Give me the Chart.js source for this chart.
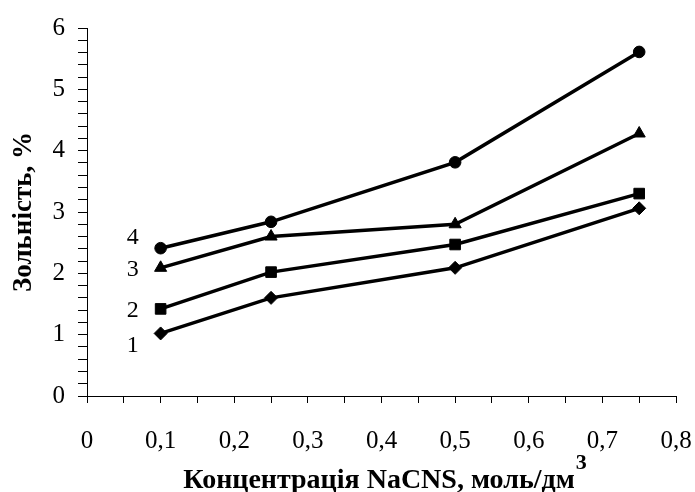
<!DOCTYPE html>
<html>
<head>
<meta charset="utf-8">
<script src="https://cdn.jsdelivr.net/npm/chart.js@4"></script>
<style>
  html, body { margin: 0; padding: 0; background: #fff; }
  #wrap { width: 695px; height: 492px; }
</style>
</head>
<body>
<div id="wrap"><canvas id="chart" width="695" height="492"></canvas></div>
<script>
// Data
const concentrations = [0.1, 0.25, 0.5, 0.75];
const series1 = [1.02, 1.60, 2.09, 3.06];
const series2 = [1.42, 2.02, 2.47, 3.30];
const series3 = [2.09, 2.60, 2.80, 4.28];
const series4 = [2.41, 2.84, 3.81, 5.61];
const seriesNames = ['1', '2', '3', '4'];
const xTicks = [0, 0.1, 0.2, 0.3, 0.4, 0.5, 0.6, 0.7, 0.8];
const yTicks = [0, 1, 2, 3, 4, 5, 6];
const xTitle = 'Концентрація NaCNS, моль/дм';
const xTitleSup = '3';
const yTitle = 'Зольність, %';

const FONT = "'Liberation Serif', 'Times New Roman', serif";

function toPoints(values) {
    return concentrations.map((x, i) => ({ x: x, y: values[i] }));
}

function makeDataset(name, values, marker, radius) {
    return {
        label: name,
        data: toPoints(values),
        borderColor: '#000',
        backgroundColor: '#000',
        borderWidth: 3.5,
        pointStyle: marker,
        pointRadius: radius,
        pointBorderWidth: 1,
        tension: 0
    };
}

// curve numbers left of the first point of each series
const curveLabels = {
    id: 'curveLabels',
    afterDatasetsDraw(chart) {
        const ctx = chart.ctx;
        const offsets = [12, 2, 2, -10];
        ctx.save();
        ctx.fillStyle = '#000';
        ctx.font = '24px ' + FONT;
        ctx.textAlign = 'center';
        ctx.textBaseline = 'middle';
        chart.data.datasets.forEach((ds, i) => {
            const pt = chart.getDatasetMeta(i).data[0];
            ctx.fillText(ds.label, pt.x - 28, pt.y + offsets[i]);
        });
        ctx.restore();
    }
};

// x axis title with a raised "3"
const xAxisTitle = {
    id: 'xAxisTitle',
    afterDraw(chart) {
        const ctx = chart.ctx;
        const area = chart.chartArea;
        ctx.save();
        ctx.fillStyle = '#000';
        ctx.textBaseline = 'alphabetic';
        ctx.textAlign = 'left';
        const mainFont = 'bold 28px ' + FONT;
        const supFont = 'bold 22px ' + FONT;
        ctx.font = mainFont;
        const w1 = ctx.measureText(xTitle).width;
        ctx.font = supFont;
        const w2 = ctx.measureText(xTitleSup).width;
        const x0 = (area.left + area.right) / 2 + 3 - (w1 + w2) / 2;
        ctx.font = mainFont;
        ctx.fillText(xTitle, x0, 488);
        ctx.font = supFont;
        ctx.fillText(xTitleSup, x0 + w1 + 1, 469);
        ctx.restore();
    }
};

function isNear(v, list) {
    return list.some(t => Math.abs(v - t) < 1e-6);
}

new Chart(document.getElementById('chart').getContext('2d'), {
    type: 'line',
    data: {
        datasets: [
            makeDataset(seriesNames[0], series1, 'rectRot', 6.5),
            makeDataset(seriesNames[1], series2, 'rect', 7.5),
            makeDataset(seriesNames[2], series3, 'triangle', 7),
            makeDataset(seriesNames[3], series4, 'circle', 5.8)
        ]
    },
    options: {
        responsive: false,
        animation: false,
        layout: { padding: { top: 23, right: 0, left: 0, bottom: 0 } },
        plugins: {
            legend: { display: false },
            tooltip: { enabled: false }
        },
        scales: {
            x: {
                type: 'linear',
                min: 0,
                max: 0.8,
                afterFit(scale) {
                    scale.height = 96;
                    scale.paddingRight = 19;
                },
                border: { display: true, color: '#000', width: 1 },
                grid: { drawOnChartArea: false, drawTicks: true, tickLength: 7, color: '#000' },
                ticks: {
                    stepSize: 0.05,
                    autoSkip: false,
                    maxRotation: 0,
                    padding: 23,
                    color: '#000',
                    font: { family: FONT, size: 25 },
                    callback: v => isNear(v, xTicks)
                        ? (Math.abs(v) < 1e-6 ? '0' : v.toFixed(1).replace('.', ','))
                        : ''
                },
                title: { display: false }
            },
            y: {
                type: 'linear',
                min: 0,
                max: 6,
                afterFit(scale) { scale.width = 87; },
                border: { display: true, color: '#000', width: 1 },
                grid: { drawOnChartArea: false, drawTicks: true, tickLength: 9, color: '#000' },
                ticks: {
                    stepSize: 0.2,
                    autoSkip: false,
                    padding: 13,
                    color: '#000',
                    font: { family: FONT, size: 25 },
                    callback: v => isNear(v, yTicks) ? String(Math.round(v)) : ''
                },
                title: {
                    display: true,
                    text: yTitle,
                    color: '#000',
                    font: { family: FONT, size: 27, weight: 'bold' },
                    padding: { top: 8, bottom: 0 }
                }
            }
        }
    },
    plugins: [curveLabels, xAxisTitle]
});
</script>
</body>
</html>
